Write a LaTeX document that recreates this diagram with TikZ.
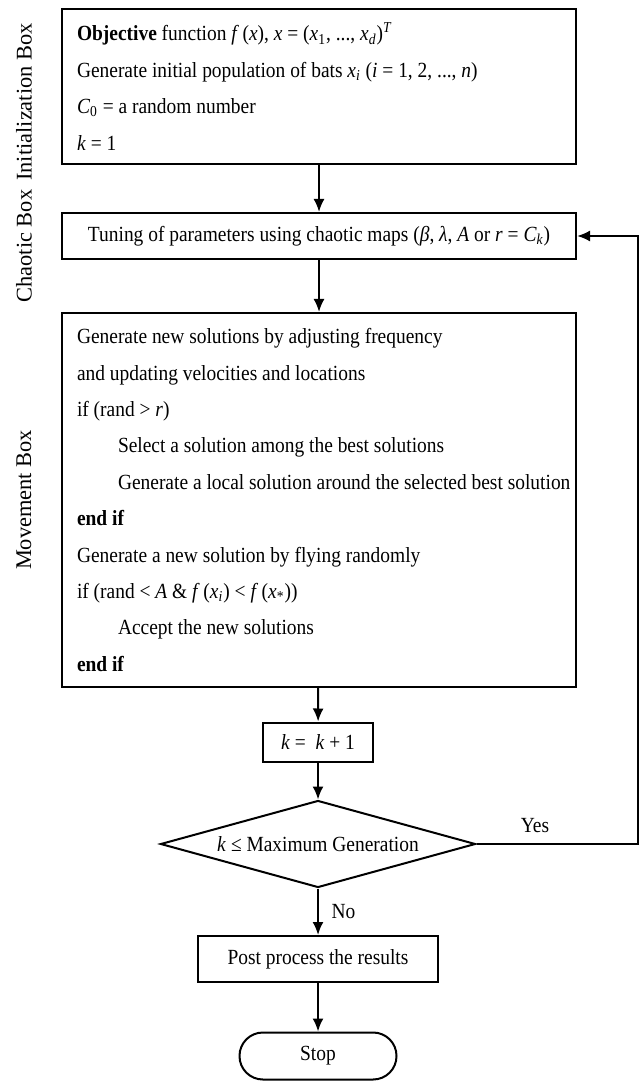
\documentclass[tikz,border=0pt]{standalone}
\usepackage{fontspec}
\setmainfont[FakeStretch=0.9]{Liberation Serif}
\newfontfamily\sideserif{Liberation Serif}
\usetikzlibrary{arrows.meta,shapes.geometric,positioning}

\tikzset{
  txt/.style={font=\fontsize{10.8}{18.2}\selectfont},
  bigbox/.style={draw, line width=1pt, txt, inner xsep=7.5pt, inner ysep=0pt, text width=242pt, align=flush left},
  smallbox/.style={draw, line width=1pt, txt, inner sep=0pt, align=center},
  arr/.style={line width=1pt, -{Latex[length=6.5pt,width=5.5pt]}},
  sidelbl/.style={font=\sideserif\fontsize{11.2}{13}\selectfont, rotate=90}
}
\newcommand{\ind}{\hspace*{20.5pt}}

\begin{document}
\begin{tikzpicture}[x=0.5pt,y=-0.5pt]
\useasboundingbox (0,0) rectangle (643,1090);

% side labels
\node[sidelbl] (linit) at (24,102) {Initialization Box};
\node[sidelbl] (lchaos) at (24,246) {Chaotic Box};
\node[sidelbl] (lmove) at (24,500) {Movement Box};

% boxes
\node[bigbox, minimum height=77.5pt] (init) at (319,86.5) {%
\textbf{Objective} function \textit{f}\,(\textit{x}), \textit{x} = (\textit{x}\textsubscript{1}, ..., \textit{x}\textsubscript{\textit{d}})\textsuperscript{\textit{T}}\\
Generate initial population of bats \textit{x\textsubscript{i}} (\textit{i} = 1, 2, ..., \textit{n})\\
\textit{C}\textsubscript{0} = a random number\\
\textit{k} = 1};

\node[smallbox, minimum width=257pt, minimum height=23pt] (chaos) at (319,236) {Tuning of parameters using chaotic maps (\textit{β}, \textit{λ}, \textit{A} or \textit{r} = \textit{C\textsubscript{k}})};

\node[bigbox, minimum height=187pt] (move) at (319,500) {%
Generate new solutions by adjusting frequency\\
and updating velocities and locations\\
if (rand > \textit{r})\\
\ind Select a solution among the best solutions\\
\ind\mbox{Generate a local solution around the selected best solution}\\
\textbf{end if}\\
Generate a new solution by flying randomly\\
if (rand < \textit{A} \& \textit{f}\,(\textit{x\textsubscript{i}}) < \textit{f}\,(\textit{x}\textsubscript{*}))\\
\ind Accept the new solutions\\
\textbf{end if}};

\node[smallbox, minimum width=55pt, minimum height=19.5pt] (kbox) at (318,742) {\textit{k} = \ \textit{k} + 1};

\node[draw, line width=1pt, txt, diamond, aspect=3.6, inner sep=0pt, minimum width=157.5pt, minimum height=43.5pt] (dec) at (318,844) {\textit{k} ≤ Maximum Generation};

\node[smallbox, minimum width=120pt, minimum height=23pt] (post) at (318,959) {Post process the results};

\node[smallbox, rounded corners=11.7pt, minimum width=78.5pt, minimum height=23.5pt] (stop) at (318,1056) {Stop};

% connectors
\coordinate (fb) at (638,844);
\draw[arr] (init) -- (chaos);
\draw[arr] (chaos) -- (move);
\draw[arr] (move) -- (kbox);
\draw[arr] (kbox) -- (dec);
\draw[arr] (dec) -- node[txt, right=3pt] (no) {No} (post);
\draw[arr] (post) -- (stop);
\draw[arr] (dec.east) -- (fb) |- (chaos.east);
\node[txt] (yes) at (535,826) {Yes};

\end{tikzpicture}
\end{document}
